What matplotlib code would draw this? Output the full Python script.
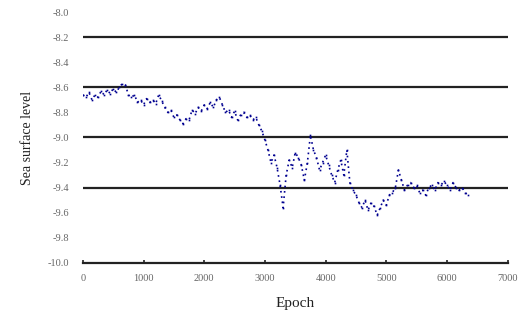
import numpy as np
import matplotlib.pyplot as plt

# sea surface level per epoch
epoch = np.arange(0, 6400, 50)
level = [
    -8.66, -8.68, -8.64, -8.70, -8.66, -8.68, -8.63, -8.66, -8.62, -8.65,
    -8.61, -8.64, -8.60, -8.57, -8.58, -8.66, -8.68, -8.66, -8.72, -8.70,
    -8.74, -8.69, -8.72, -8.70, -8.73, -8.66, -8.71, -8.76, -8.80, -8.78,
    -8.84, -8.82, -8.86, -8.89, -8.85, -8.86, -8.78, -8.81, -8.76, -8.79,
    -8.74, -8.77, -8.72, -8.76, -8.70, -8.68, -8.74, -8.80, -8.78, -8.84,
    -8.79, -8.86, -8.82, -8.80, -8.84, -8.82, -8.86, -8.84, -8.90, -8.95,
    -9.02, -9.10, -9.20, -9.14, -9.24, -9.38, -9.56, -9.30, -9.18, -9.24,
    -9.12, -9.16, -9.22, -9.34, -9.20, -8.98, -9.10, -9.16, -9.26, -9.20,
    -9.14, -9.22, -9.30, -9.36, -9.26, -9.18, -9.30, -9.10, -9.36, -9.42,
    -9.46, -9.52, -9.56, -9.50, -9.58, -9.52, -9.55, -9.62, -9.56, -9.50,
    -9.54, -9.46, -9.44, -9.40, -9.26, -9.34, -9.42, -9.38, -9.36, -9.40,
    -9.38, -9.44, -9.42, -9.46, -9.40, -9.38, -9.42, -9.36, -9.38, -9.35,
    -9.38, -9.42, -9.36, -9.40, -9.42, -9.40, -9.44, -9.46,
]

xticks = [0, 1000, 2000, 3000, 4000, 5000, 6000, 7000]
yticks = [-10.0, -9.8, -9.6, -9.4, -9.2, -9.0, -8.8, -8.6, -8.4, -8.2, -8.0]
gridlines = [-8.2, -8.6, -9.0, -9.4]

plt.rcParams['font.family'] = ['Liberation Serif', 'DejaVu Serif']

fig = plt.figure(figsize=(5.18, 3.19), dpi=100)
ax = fig.add_axes([0.160, 0.176, 0.820, 0.786])

for g in gridlines:
    ax.axhline(g, color='#222222', lw=1.6, zorder=1)

ax.plot(epoch, level, color='#000090', lw=1.2, ls=(0, (1, 2.2)),
        marker='s', ms=1.2, mew=0, zorder=3)

ax.set_xlim(0, 7000)
ax.set_ylim(-10.0, -8.0)
ax.set_xticks(xticks)
ax.set_yticks(yticks)
ax.set_yticklabels([f'{v:.1f}' for v in yticks])
ax.tick_params(axis='both', labelsize=7.5, colors='#666666', length=0, pad=10)
ax.tick_params(axis='x', length=2, width=1.2, color='#222222', direction='in', pad=8)

for s in ['top', 'right', 'left']:
    ax.spines[s].set_visible(False)
ax.spines['bottom'].set_color('#222222')
ax.spines['bottom'].set_linewidth(1.6)

ax.set_ylabel('Sea surface level', fontsize=10, color='#222222', labelpad=10)
ax.set_xlabel('Epoch', fontsize=11, color='#222222', labelpad=10)

fig.savefig('out.png', dpi=100)
